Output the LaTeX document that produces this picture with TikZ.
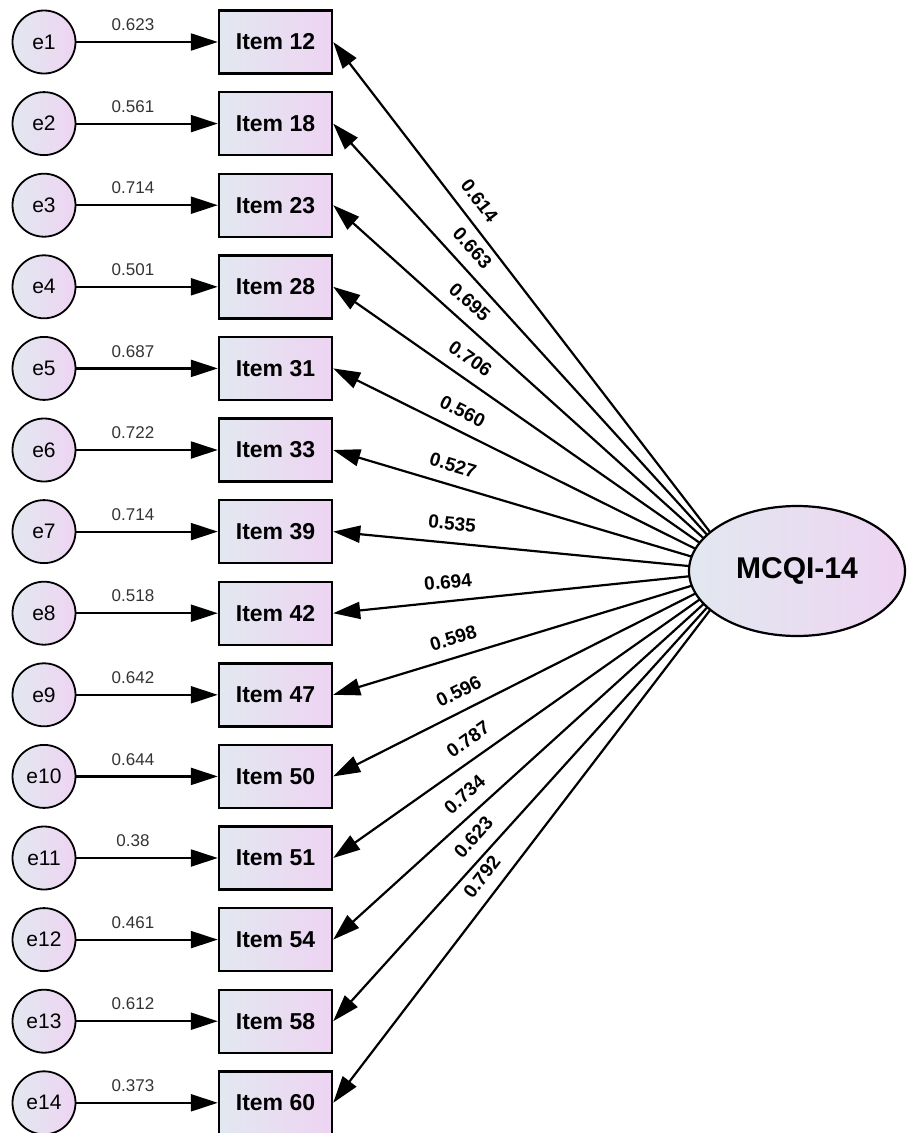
\documentclass[tikz,border=0pt]{standalone}
\usepackage{fontspec}
\setmainfont{Liberation Sans}
\usetikzlibrary{arrows.meta,shapes.geometric,calc}
\pgfdeclarelayer{background}
\pgfsetlayers{background,main}
\definecolor{cA}{RGB}{226,232,240}
\definecolor{cB}{RGB}{238,212,242}
\begin{document}
\begin{tikzpicture}[x=1pt,y=-1pt,
  errc/.style={circle, draw, line width=1.8pt, minimum size=63pt, inner sep=0pt,
    left color=cA, right color=cB, font=\fontsize{21}{25}\selectfont},
  itembox/.style={rectangle, draw, line width=2.4pt, minimum width=113pt, minimum height=63pt,
    inner sep=0pt, left color=cA, right color=cB, font=\bfseries\fontsize{23}{27}\selectfont},
  latent/.style={ellipse, draw, line width=2.2pt, minimum width=216pt, minimum height=130pt,
    inner sep=0pt, left color=cA, right color=cB, font=\bfseries\fontsize{30}{36}\selectfont},
  arr/.style={line width=2.2pt, -{Triangle[length=27pt,width=17pt]}},
  larr/.style={line width=2.2pt, {Triangle[length=27pt,width=17pt]}-},
  wlab/.style={font=\fontsize{17}{20}\selectfont, text=black!80, inner sep=2pt},
  llab/.style={font=\bfseries\fontsize{19}{22}\selectfont, inner sep=2pt, sloped}]
\path[use as bounding box] (0,0) rectangle (907,1133);
\node[latent] (F) at (797,571) {MCQI-14};
\coordinate (aim) at (740,571);
\foreach \i/\it in {1/12,2/18,3/23,4/28,5/31,6/33,7/39,8/42,9/47,10/50,11/51,12/54,13/58,14/60}{
  \node[errc] (e\i) at (44,{42+81.6*(\i-1)}) {e\i};
  \node[itembox] (i\i) at (275.5,{42+81.6*(\i-1)}) {Item \it};
}
\begin{pgfonlayer}{background}
\foreach \i/\w/\l/\t in {1/0.623/0.614/0.322, 2/0.561/0.663/0.307, 3/0.714/0.695/0.304,
  4/0.501/0.706/0.310, 5/0.687/0.560/0.297, 6/0.722/0.527/0.281, 7/0.714/0.535/0.288,
  8/0.518/0.694/0.287, 9/0.642/0.598/0.309, 10/0.644/0.596/0.330, 11/0.38/0.787/0.359,
  12/0.461/0.734/0.355, 13/0.612/0.623/0.380, 14/0.373/0.792/0.403}{
  \draw[arr] (e\i) -- node[wlab, pos=0.4, above=8pt] {\w} (i\i);
  \draw[larr] (i\i.east) -- node[llab, pos=\t, above=9.5pt] {\l} (aim);
}
\end{pgfonlayer}
\end{tikzpicture}
\end{document}
